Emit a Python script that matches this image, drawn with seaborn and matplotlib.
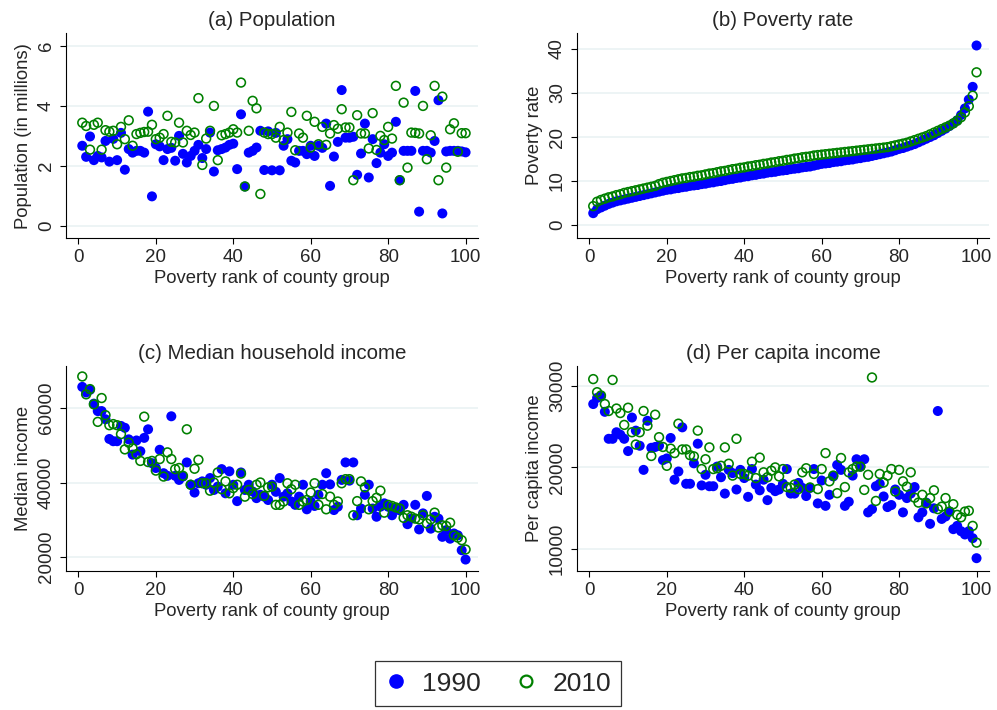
import pandas as pd
import numpy as np
import matplotlib.pyplot as plt
import seaborn as sns
from matplotlib.lines import Line2D

# county groups ranked by poverty, 1..100
rank = list(range(1, 101))

# (a) population, millions
pop_1990 = [2.67, 2.30, 2.98, 2.19, 2.33, 2.28, 2.83, 2.14, 2.90, 2.19,
            3.10, 1.87, 2.56, 2.44, 2.50, 2.50, 2.44, 3.81, 0.98, 2.72,
            2.65, 2.19, 2.56, 2.60, 2.17, 3.00, 2.40, 2.11, 2.33, 2.50,
            2.70, 2.26, 2.56, 3.11, 1.81, 2.52, 2.56, 2.61, 2.70, 2.74,
            1.89, 3.72, 1.31, 2.44, 2.50, 2.61, 3.17, 1.86, 3.15, 1.85,
            3.10, 1.85, 2.67, 2.89, 2.17, 2.11, 2.50, 2.50, 2.39, 2.67,
            2.33, 2.67, 2.60, 3.41, 1.33, 2.31, 2.80, 4.53, 2.94, 2.94,
            2.97, 1.70, 2.41, 3.41, 1.61, 2.89, 2.09, 2.44, 2.72, 2.33,
            2.44, 3.47, 1.52, 2.50, 2.50, 2.50, 4.50, 0.47, 2.50, 2.50,
            2.44, 2.83, 4.19, 0.41, 2.48, 2.50, 2.50, 2.50, 2.48, 2.45]
pop_2010 = [3.44, 3.33, 2.54, 3.37, 3.44, 2.54, 3.19, 3.14, 3.17, 2.72,
            3.30, 2.89, 3.52, 2.67, 3.06, 3.10, 3.13, 3.14, 3.37, 2.89,
            2.94, 3.06, 3.67, 2.80, 2.78, 3.44, 2.78, 3.17, 3.03, 3.11,
            4.26, 2.03, 2.91, 3.17, 4.00, 2.19, 3.02, 3.06, 3.11, 3.22,
            3.11, 4.78, 1.31, 3.17, 4.17, 3.92, 1.06, 3.11, 3.06, 3.06,
            2.94, 3.30, 2.86, 3.11, 3.80, 2.52, 3.08, 2.94, 3.67, 2.61,
            3.47, 2.72, 3.30, 2.70, 3.08, 3.36, 3.24, 3.89, 3.28, 3.28,
            1.52, 3.69, 3.08, 3.08, 2.58, 3.76, 2.53, 3.00, 2.86, 3.30,
            2.91, 4.67, 1.52, 4.11, 1.94, 3.11, 3.10, 3.08, 4.00, 2.22,
            3.02, 4.67, 1.52, 4.31, 1.94, 3.22, 3.42, 2.47, 3.09, 3.09]

# (b) poverty rate, percent
pov_1990 = [2.7, 3.6, 4.0, 4.4, 4.8, 5.1, 5.4, 5.6, 5.8, 6.0,
            6.2, 6.4, 6.6, 6.8, 7.0, 7.2, 7.4, 7.6, 7.8, 8.0,
            8.1, 8.3, 8.4, 8.6, 8.7, 8.9, 9.0, 9.1, 9.3, 9.4,
            9.6, 9.7, 9.9, 10.0, 10.2, 10.4, 10.5, 10.7, 10.8, 11.0,
            11.1, 11.3, 11.4, 11.6, 11.7, 11.9, 12.0, 12.1, 12.3, 12.4,
            12.5, 12.7, 12.8, 12.9, 13.1, 13.2, 13.3, 13.5, 13.7, 13.9,
            14.0, 14.1, 14.3, 14.4, 14.5, 14.7, 14.8, 14.9, 15.1, 15.2,
            15.4, 15.5, 15.7, 15.9, 16.1, 16.3, 16.5, 16.7, 17.0, 17.3,
            17.5, 17.8, 18.1, 18.4, 18.8, 19.2, 19.6, 20.0, 20.4, 20.9,
            21.4, 21.9, 22.5, 23.1, 23.8, 25.0, 26.5, 28.5, 31.4, 40.8]
pov_2010 = [4.3, 5.3, 5.7, 6.0, 6.3, 6.5, 6.8, 7.0, 7.3, 7.5,
            7.7, 7.9, 8.1, 8.3, 8.5, 8.7, 8.9, 9.3, 9.6, 9.8,
            10.0, 10.2, 10.4, 10.6, 10.7, 10.9, 11.0, 11.2, 11.3, 11.5,
            11.7, 11.8, 12.0, 12.2, 12.3, 12.5, 12.7, 12.8, 13.0, 13.1,
            13.3, 13.4, 13.6, 13.7, 13.9, 14.0, 14.2, 14.3, 14.5, 14.6,
            14.8, 14.9, 15.1, 15.2, 15.4, 15.5, 15.6, 15.8, 15.9, 16.0,
            16.1, 16.2, 16.3, 16.4, 16.5, 16.6, 16.7, 16.8, 16.9, 17.0,
            17.1, 17.2, 17.3, 17.4, 17.5, 17.6, 17.7, 17.9, 18.1, 18.3,
            18.5, 18.7, 19.0, 19.3, 19.6, 19.9, 20.2, 20.6, 21.0, 21.4,
            21.8, 22.2, 22.6, 23.1, 23.7, 24.5, 25.6, 27.0, 29.4, 34.7]

# (c) median household income
med_1990 = [65700, 64200, 64900, 61200, 59200, 59200, 57000, 51700, 51100, 51100,
            55200, 54700, 51600, 47500, 51300, 48400, 52000, 54300, 45200, 43900,
            48800, 42500, 41800, 57800, 41800, 40700, 41600, 45400, 39400, 37300,
            39800, 40300, 39400, 41200, 38000, 38900, 43600, 37100, 43000, 39400,
            35000, 42700, 38000, 39400, 37600, 35800, 36700, 36200, 35300, 39400,
            37500, 41200, 36200, 37100, 34900, 34000, 36200, 39400, 32800, 34900,
            33700, 36700, 39400, 42500, 39500, 32600, 33500, 40700, 45400, 40500,
            45400, 31200, 33000, 36700, 39400, 33000, 30800, 33500, 34400, 33500,
            31200, 33000, 32500, 34000, 28800, 30300, 34000, 27400, 31700, 36400,
            27600, 30800, 30300, 25400, 27200, 24900, 26300, 25800, 21800, 19300]
med_2010 = [68500, 63700, 65100, 61000, 56300, 62700, 58100, 55400, 55700, 55400,
            53000, 48900, 50700, 49200, 47600, 45800, 57700, 45500, 45800, 43200,
            46300, 41600, 48100, 46300, 43600, 43900, 41800, 54300, 39400, 43700,
            46100, 39800, 39800, 37800, 40000, 42700, 38200, 40300, 37100, 38500,
            39400, 42400, 36200, 38000, 36900, 39400, 40000, 36400, 38700, 38900,
            34000, 34000, 34900, 39800, 38200, 39400, 34000, 34900, 35300, 37300,
            39800, 34000, 36900, 32800, 36200, 34000, 34900, 39800, 40900, 40900,
            31200, 35000, 40300, 38700, 32800, 35000, 35900, 37800, 31900, 34000,
            33700, 33300, 33000, 30500, 31200, 30800, 30300, 30100, 31200, 29000,
            30100, 31900, 27900, 28500, 28300, 29200, 25800, 25200, 24500, 22000]

# (d) per capita income
pci_1990 = [27750, 28500, 28700, 26800, 23500, 23500, 24300, 24000, 23500, 22000,
            26100, 24500, 22650, 19700, 25700, 22400, 22500, 22650, 20900, 21100,
            23600, 18500, 19500, 24900, 18000, 18000, 20500, 22900, 17800, 19100,
            17700, 17700, 20100, 18800, 16800, 19700, 19300, 17300, 19700, 18700,
            16400, 19800, 17900, 17200, 18500, 16000, 17500, 17100, 17300, 18000,
            19800, 16800, 16800, 18100, 17500, 16500, 17500, 19800, 15600, 18400,
            15300, 16650, 18900, 20300, 19700, 15300, 15800, 19000, 21000, 20100,
            21000, 14500, 14900, 17700, 18000, 16450, 15150, 15400, 17300, 16650,
            14500, 16250, 16800, 17600, 13900, 14500, 15700, 13100, 15000, 26900,
            13700, 14000, 14600, 12450, 12850, 12200, 11800, 12200, 11350, 8900]
pci_2010 = [30800, 29200, 28800, 27750, 26900, 30700, 27200, 26650, 25200, 27300,
            24300, 22800, 24300, 26900, 25100, 21400, 26450, 23700, 22500, 20200,
            22300, 21750, 25350, 22200, 22200, 21500, 21350, 24500, 19800, 21000,
            22450, 19800, 19900, 20200, 22450, 20450, 19000, 23500, 19200, 19200,
            19000, 20700, 18700, 21200, 19400, 18800, 19600, 20000, 18900, 19800,
            17600, 17500, 17900, 17350, 19400, 19900, 17550, 19200, 17350, 19800,
            21750, 18300, 19000, 16850, 21150, 17600, 19400, 19800, 20100, 20100,
            17250, 19100, 31000, 15900, 19200, 18150, 19000, 19800, 17050, 19700,
            18300, 17650, 19400, 16300, 15700, 16650, 15600, 16250, 17200, 14900,
            15200, 16250, 14600, 15500, 14200, 13900, 14600, 14700, 12850, 10800]

df = pd.DataFrame({'rank': rank,
                   'pop_1990': pop_1990, 'pop_2010': pop_2010,
                   'pov_1990': pov_1990, 'pov_2010': pov_2010,
                   'med_1990': med_1990, 'med_2010': med_2010,
                   'pci_1990': pci_1990, 'pci_2010': pci_2010})

sns.set_style('white')
plt.rcParams['font.family'] = ['Liberation Sans', 'DejaVu Sans']

BLUE = '#0000FF'
GREEN = '#008000'

fig = plt.figure(figsize=(9.97, 7.10), dpi=100)

panels = [
    ('pop', '(a) Population', 'Population (in millions)', [0, 2, 4, 6], (-0.41, 6.43),
     [0.0662, 0.6648]),
    ('pov', '(b) Poverty rate', 'Poverty rate', [0, 10, 20, 30, 40], (-2.94, 43.6),
     [0.5787, 0.6648]),
    ('med', '(c) Median household income', 'Median income', [20000, 40000, 60000],
     (16300, 71350), [0.0662, 0.1962]),
    ('pci', '(d) Per capita income', 'Per capita income', [10000, 20000, 30000],
     (7370, 32420), [0.5787, 0.1962]),
]

for key, title, ylabel, yticks, ylim, (left, bottom) in panels:
    ax = fig.add_axes([left, bottom, 0.4132, 0.2885])
    sns.scatterplot(data=df, x='rank', y=key + '_1990', ax=ax, color=BLUE,
                    edgecolor='none', s=52, linewidth=0)
    sns.scatterplot(data=df, x='rank', y=key + '_2010', ax=ax, color=GREEN,
                    facecolors='none', edgecolor=GREEN, s=40, linewidth=1.15)
    ax.set_xlim(-3.2, 103.2)
    ax.set_ylim(*ylim)
    ax.set_xticks([0, 20, 40, 60, 80, 100])
    ax.set_yticks(yticks)
    ax.set_yticklabels([str(t) for t in yticks], rotation=90, va='center')
    ax.tick_params(axis='both', direction='out', length=4, width=0.8,
                   labelsize=13.5, color='black', pad=4, left=True, bottom=True)
    ax.set_title(title, fontsize=14.8, pad=5)
    ax.set_xlabel('Poverty rank of county group', fontsize=13.3, labelpad=3)
    ax.set_ylabel(ylabel, fontsize=13.3, labelpad=4)
    sns.despine(ax=ax)
    for side in ['left', 'bottom']:
        ax.spines[side].set_color('black')
        ax.spines[side].set_linewidth(0.8)
    ax.yaxis.grid(True, color='#EAF2F3', linewidth=1.2)
    ax.xaxis.grid(False)
    ax.set_axisbelow(True)

handles = [Line2D([], [], marker='o', linestyle='none', markersize=9.5,
                  markerfacecolor=BLUE, markeredgecolor=BLUE),
           Line2D([], [], marker='o', linestyle='none', markersize=8.5,
                  markerfacecolor='none', markeredgecolor=GREEN, markeredgewidth=1.6)]
leg = fig.legend(handles, ['1990', '2010'], loc='center', bbox_to_anchor=(0.4995, 0.0373),
                 ncol=2, fontsize=19, frameon=True, fancybox=False, edgecolor='black',
                 handlelength=0.8, handletextpad=0.6, columnspacing=1.3, borderpad=0.4,
                 borderaxespad=0)
leg.get_frame().set_linewidth(0.9)

fig.savefig('out.png', dpi=100)
